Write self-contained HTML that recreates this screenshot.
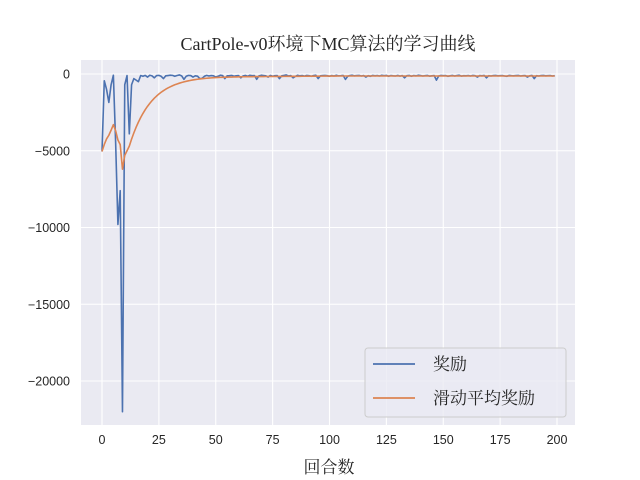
<!DOCTYPE html>
<html><head><meta charset="utf-8">
<style>
body{margin:0;background:#fff;}
svg{display:block;}
</style></head>
<body>
<svg id="chart" width="640" height="480" xmlns="http://www.w3.org/2000/svg">
<defs><clipPath id="pc"><rect x="81" y="60" width="494" height="365"/></clipPath></defs>
<rect width="640" height="480" fill="#ffffff"/>
<rect x="81" y="60" width="494" height="365" fill="#eaeaf2"/>
<g id="grid"></g>
<g id="xticks"></g>
<g id="yticks"></g>
<g id="series" clip-path="url(#pc)"></g>
<text x="328" y="50" text-anchor="middle" font-family="'Liberation Serif','Noto Serif CJK SC',serif" font-size="18" fill="#262626">CartPole-v0环境下MC算法的学习曲线</text>
<text x="329" y="473" text-anchor="middle" font-family="'Liberation Serif','Noto Serif CJK SC',serif" font-size="17" fill="#262626">回合数</text>
<g>
<rect x="365" y="348" width="201" height="69" rx="3" fill="#eaeaf2" fill-opacity="0.8" stroke="#cccccc"/>
<line x1="373" y1="364" x2="415" y2="364" stroke="#4c72b0" stroke-width="1.8"/>
<text x="433" y="370" font-family="'Liberation Serif','Noto Serif CJK SC',serif" font-size="17" fill="#262626">奖励</text>
<line x1="373" y1="398" x2="415" y2="398" stroke="#dd8452" stroke-width="1.8"/>
<text x="433" y="404" font-family="'Liberation Serif','Noto Serif CJK SC',serif" font-size="17" fill="#262626">滑动平均奖励</text>
</g>
</svg>
<script>
const xTicks=[0,25,50,75,100,125,150,175,200];
const yTicks=[0,-5000,-10000,-15000,-20000];
const rewards=[-5050,-440,-1000,-1850,-700,-80,-4500,-9800,-7600,-22000,-700,-100,-3900,-700,-300,-400,-500,-100,
-150,-90,-200,-80,-120,-250,-100,-90,-150,-300,-120,-100,-80,-90,-150,-100,-60,-120,-350,-150,-90,-100,
-200,-120,-140,-300,-280,-150,-90,-130,-100,-120,-200,-150,-80,-100,-300,-120,-110,-90,-150,-120,
-100,-250,-130,-90,-150,-80,-110,-100,-350,-120,-80,-100,-120,-200,-90,-150,-110,-100,-300,-120,
-90,-60,-130,-100,-250,-150,-80,-120,-100,-140,-90,-110,-150,-100,-80,-300,-120,-100,-90,-110,
-150,-100,-130,-80,-120,-110,-90,-350,-150,-100,-80,-120,-100,-90,-130,-100,-200,-110,-150,-90,
-120,-100,-130,-80,-110,-90,-150,-100,-120,-130,-90,-140,-100,-250,-110,-90,-150,-100,-120,-80,
-100,-130,-110,-90,-140,-120,-100,-400,-130,-90,-110,-100,-150,-120,-90,-130,-100,-80,-140,-110,
-120,-100,-130,-90,-110,-200,-100,-120,-90,-250,-110,-130,-100,-90,-120,-110,-100,-130,-150,-90,
-110,-120,-100,-90,-130,-110,-100,-200,-120,-90,-300,-110,-130,-100,-90,-120,-110,-100,-130,-110];
const movingAvg=[-5050,-4590,-4230,-3990,-3660,-3300,-3700,-4300,-4600,-6200,-5300,-5000,-4700,-4245,-3835,-3467,-3135,-2836,
-2567,-2325,-2108,-1912,-1736,-1577,-1435,-1306,-1191,-1087,-993,-909,-833,-765,-703,-648,-598,-553,-513,-477,-444,-414,
-388,-364,-342,-323,-306,-290,-276,-264,-253,-243,-234,-227,-220,-214,-209,-205,-201,-197,-193,-189,
-185,-182,-180,-178,-176,-174,-172,-170,-168,-167,-165,-164,-163,-162,-161,-160,-159,-158,-157,-156,
-155,-154,-153,-152,-151,-150,-149,-148,-147,-146,-145,-144,-143,-142,-141,-140,-139,-138,-137,-136,
-135,-134,-133,-132,-131,-130,-130,-130,-130,-130,-130,-130,-130,-130,-130,-130,-130,-130,-130,-130,
-130,-130,-130,-130,-130,-130,-130,-130,-130,-130,-130,-130,-130,-130,-130,-130,-130,-130,-130,-130,
-130,-130,-130,-130,-130,-130,-130,-130,-130,-130,-130,-130,-130,-130,-130,-130,-130,-130,-130,-130,
-130,-130,-130,-130,-130,-130,-130,-130,-130,-130,-130,-130,-130,-130,-130,-130,-130,-130,-130,-130,
-130,-130,-130,-130,-130,-130,-130,-130,-130,-130,-130,-130,-130,-130,-130,-130,-130,-130,-130,-130];
const NS='http://www.w3.org/2000/svg';
function xs(v){return 102+v*(557-102)/200;}
function ys(v){return 74-v*(381-74)/20000;}
function mk(t,a,p){const e=document.createElementNS(NS,t);for(const k in a)e.setAttribute(k,a[k]);p.appendChild(e);return e;}
const grid=document.getElementById('grid'),xt=document.getElementById('xticks'),yt=document.getElementById('yticks'),se=document.getElementById('series');
const font="'Liberation Sans','DejaVu Sans',sans-serif";
xTicks.forEach(v=>{
 const l=mk('line',{x1:xs(v),x2:xs(v),y1:60,y2:425,stroke:'#fff','stroke-width':1.1},grid);
 
 
 const t=mk('text',{x:xs(v),y:444,'text-anchor':'middle','font-family':font,'font-size':12.5,fill:'#262626'},xt);
 t.textContent=v;
 
 
});
yTicks.forEach(v=>{
 const l=mk('line',{x1:81,x2:575,y1:ys(v),y2:ys(v),stroke:'#fff','stroke-width':1.1},grid);
 
 
 const t=mk('text',{x:70,y:ys(v)+4.5,'text-anchor':'end','font-family':font,'font-size':12.5,fill:'#262626'},yt);
 t.textContent=v===0?'0':'\u2212'+(-v);
 
 
});
function line(arr,color,name){
 const d=arr.map((v,i)=>(i?'L':'M')+xs(i).toFixed(2)+','+ys(v).toFixed(2)).join('');
 const p=mk('path',{d:d,fill:'none',stroke:color,'stroke-width':1.6,'stroke-linejoin':'round'},se);
 
 
}
line(rewards,'#4c72b0','reward-line');
line(movingAvg,'#dd8452','moving-average-line');
</script>
</body></html>
